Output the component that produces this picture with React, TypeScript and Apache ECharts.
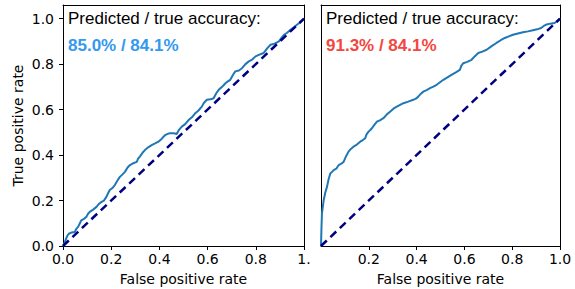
import React, { useEffect, useRef } from "react";
import * as echarts from "echarts";

const leftRoc: [number, number][] = [
  [0, 0], [0.006, 0.012], [0.012, 0.03], [0.018, 0.045], [0.024, 0.054], [0.035, 0.059], [0.049, 0.062], [0.055, 0.075], [0.0625, 0.084],
  [0.07, 0.1], [0.076, 0.113], [0.085, 0.118], [0.097, 0.128], [0.104, 0.142], [0.111, 0.15], [0.125, 0.16], [0.139, 0.172], [0.15, 0.186], [0.16, 0.194],
  [0.17, 0.2], [0.18, 0.216], [0.187, 0.232], [0.194, 0.246], [0.205, 0.255], [0.215, 0.268], [0.226, 0.288], [0.236, 0.304], [0.247, 0.315], [0.257, 0.326],
  [0.268, 0.345], [0.278, 0.356], [0.292, 0.364], [0.306, 0.37], [0.312, 0.385], [0.319, 0.393], [0.33, 0.41], [0.34, 0.422], [0.355, 0.435], [0.368, 0.444],
  [0.382, 0.451], [0.396, 0.459], [0.41, 0.472], [0.424, 0.488], [0.434, 0.493], [0.444, 0.496], [0.46, 0.496], [0.472, 0.493], [0.482, 0.512], [0.493, 0.525],
  [0.507, 0.536], [0.521, 0.554], [0.535, 0.566], [0.549, 0.584], [0.562, 0.596], [0.576, 0.613], [0.585, 0.63], [0.597, 0.643], [0.612, 0.645], [0.625, 0.65],
  [0.636, 0.672], [0.646, 0.687], [0.66, 0.7], [0.674, 0.716], [0.684, 0.724], [0.694, 0.731], [0.705, 0.752], [0.715, 0.768], [0.73, 0.772], [0.743, 0.782],
  [0.757, 0.8], [0.771, 0.812], [0.785, 0.82], [0.799, 0.834], [0.815, 0.842], [0.833, 0.849], [0.848, 0.87], [0.861, 0.885], [0.878, 0.89], [0.896, 0.9],
  [0.906, 0.915], [0.917, 0.929], [0.93, 0.938], [0.944, 0.951], [0.958, 0.962], [0.972, 0.974], [0.986, 0.985], [1, 1],
];

const rightRoc: [number, number][] = [
  [0, 0], [0.001, 0.04], [0.002, 0.08], [0.004, 0.143], [0.008, 0.175], [0.011, 0.2], [0.018, 0.235], [0.025, 0.26], [0.032, 0.295], [0.039, 0.319],
  [0.046, 0.326], [0.053, 0.334], [0.064, 0.34], [0.074, 0.356], [0.085, 0.362], [0.095, 0.371], [0.105, 0.395], [0.115, 0.415], [0.126, 0.428], [0.136, 0.437],
  [0.15, 0.446], [0.164, 0.459], [0.175, 0.466], [0.185, 0.474], [0.19, 0.49], [0.199, 0.503], [0.206, 0.51], [0.213, 0.518], [0.224, 0.534], [0.234, 0.547],
  [0.248, 0.554], [0.261, 0.562], [0.275, 0.578], [0.289, 0.591], [0.303, 0.604], [0.317, 0.613], [0.331, 0.621], [0.345, 0.628], [0.365, 0.635], [0.386, 0.643],
  [0.397, 0.648], [0.407, 0.657], [0.418, 0.67], [0.428, 0.679], [0.442, 0.686], [0.456, 0.694], [0.47, 0.701], [0.484, 0.709], [0.498, 0.72], [0.512, 0.731],
  [0.529, 0.742], [0.546, 0.753], [0.564, 0.764], [0.581, 0.775], [0.587, 0.792], [0.595, 0.804], [0.612, 0.81], [0.63, 0.819], [0.644, 0.835], [0.658, 0.849],
  [0.675, 0.855], [0.693, 0.863], [0.714, 0.879], [0.734, 0.893], [0.752, 0.905], [0.769, 0.915], [0.786, 0.922], [0.803, 0.929], [0.824, 0.935], [0.845, 0.94],
  [0.866, 0.944], [0.887, 0.949], [0.904, 0.953], [0.921, 0.959], [0.932, 0.968], [0.943, 0.974], [0.96, 0.978], [0.977, 0.981], [0.99, 0.99], [1, 1],
];

const diagonal: [number, number][] = [[0, 0], [1, 1]];

const leftXTicks = [0, 0.2, 0.4, 0.6, 0.8, 1.0];
const rightXTicks = [0.2, 0.4, 0.6, 0.8, 1.0];
const yTicks = [0, 0.2, 0.4, 0.6, 0.8, 1.0];

const headerText = "Predicted / true accuracy:";
const leftAcc = "85.0% / 84.1%";
const rightAcc = "91.3% / 84.1%";

const tickFont = "DejaVu Sans";
const annFont = "Liberation Sans";

export default function App() {
  const ref = useRef<HTMLDivElement>(null);
  useEffect(() => {
    if (!ref.current) return;
    const chart = echarts.init(ref.current, undefined, { renderer: "svg" });
    const lineCol = "#000";
    const axisCommon = {
      type: "value" as const,
      splitLine: { show: false },
      axisLine: { show: true, onZero: false, lineStyle: { color: lineCol, width: 1 } },
      axisTick: { show: true, inside: false, length: 4, lineStyle: { color: lineCol, width: 1 } },
      axisLabel: { color: "#000", fontFamily: tickFont, fontSize: 14 },
    };
    const frameAxis = (gridIndex: number, position: string, max: number) => ({
      type: "value" as const,
      gridIndex,
      position,
      min: 0,
      max,
      splitLine: { show: false },
      axisLine: { show: true, onZero: false, lineStyle: { color: lineCol, width: 1 } },
      axisTick: { show: false },
      axisLabel: { show: false },
    });
    const nameStyle = { color: "#000", fontFamily: tickFont, fontSize: 14 };
    chart.setOption({
      animation: false,
      backgroundColor: "#fff",
      grid: [
        { left: 63, top: 5, width: 241, height: 241, outerBoundsMode: "none", containLabel: false },
        { left: 321, top: 5, width: 239, height: 241, outerBoundsMode: "none", containLabel: false },
      ],
      xAxis: [
        {
          ...axisCommon,
          gridIndex: 0,
          position: "bottom",
          min: 0,
          max: 1,
          axisTick: { ...axisCommon.axisTick, customValues: leftXTicks },
          axisLabel: {
            ...axisCommon.axisLabel,
            margin: 6,
            customValues: leftXTicks,
            formatter: (v: number) => (v === 1 ? "1." : v.toFixed(1)),
          },
          name: "False positive rate",
          nameLocation: "middle",
          nameGap: 26,
          nameTextStyle: nameStyle,
        },
        {
          ...axisCommon,
          gridIndex: 1,
          position: "bottom",
          min: 0,
          max: 1,
          axisTick: { ...axisCommon.axisTick, customValues: rightXTicks },
          axisLabel: {
            ...axisCommon.axisLabel,
            margin: 6,
            customValues: rightXTicks,
            formatter: (v: number) => v.toFixed(1),
          },
          name: "False positive rate",
          nameLocation: "middle",
          nameGap: 26,
          nameTextStyle: nameStyle,
        },
        frameAxis(0, "top", 1),
        frameAxis(1, "top", 1),
      ],
      yAxis: [
        {
          ...axisCommon,
          gridIndex: 0,
          position: "left",
          min: 0,
          max: 1.06,
          axisTick: { ...axisCommon.axisTick, customValues: yTicks },
          axisLabel: {
            ...axisCommon.axisLabel,
            margin: 9,
            customValues: yTicks,
            formatter: (v: number) => v.toFixed(1),
          },
          name: "True positive rate",
          nameLocation: "middle",
          nameGap: 38,
          nameTextStyle: nameStyle,
        },
        {
          ...axisCommon,
          gridIndex: 1,
          position: "left",
          min: 0,
          max: 1.06,
          axisTick: { show: false },
          axisLabel: { show: false },
        },
        frameAxis(0, "right", 1.06),
        frameAxis(1, "right", 1.06),
      ],
      series: [
        {
          type: "line",
          xAxisIndex: 0,
          yAxisIndex: 0,
          data: leftRoc,
          showSymbol: false,
          lineStyle: { color: "#1f77b4", width: 2 },
          z: 2,
        },
        {
          type: "line",
          xAxisIndex: 0,
          yAxisIndex: 0,
          data: diagonal,
          showSymbol: false,
          lineStyle: { color: "#000080", width: 2.5, type: [8, 5] },
          z: 3,
        },
        {
          type: "line",
          xAxisIndex: 1,
          yAxisIndex: 1,
          data: rightRoc,
          showSymbol: false,
          lineStyle: { color: "#1f77b4", width: 2 },
          z: 2,
        },
        {
          type: "line",
          xAxisIndex: 1,
          yAxisIndex: 1,
          data: diagonal,
          showSymbol: false,
          lineStyle: { color: "#000080", width: 2.5, type: [8, 5] },
          z: 3,
        },
      ],
      graphic: [
        { type: "text", left: 68, top: 10, style: { text: headerText, fill: "#000", font: `17px "${annFont}"` } },
        { type: "text", left: 68, top: 37, style: { text: leftAcc, fill: "#3399ee", font: `bold 17px "${annFont}"` } },
        { type: "text", left: 326, top: 10, style: { text: headerText, fill: "#000", font: `17px "${annFont}"` } },
        { type: "text", left: 326, top: 37, style: { text: rightAcc, fill: "#f44640", font: `bold 17px "${annFont}"` } },
      ],
    });
    return () => chart.dispose();
  }, []);
  return <div ref={ref} style={{ position: "absolute", left: 0, top: 0, width: 575, height: 289 }} />;
}
